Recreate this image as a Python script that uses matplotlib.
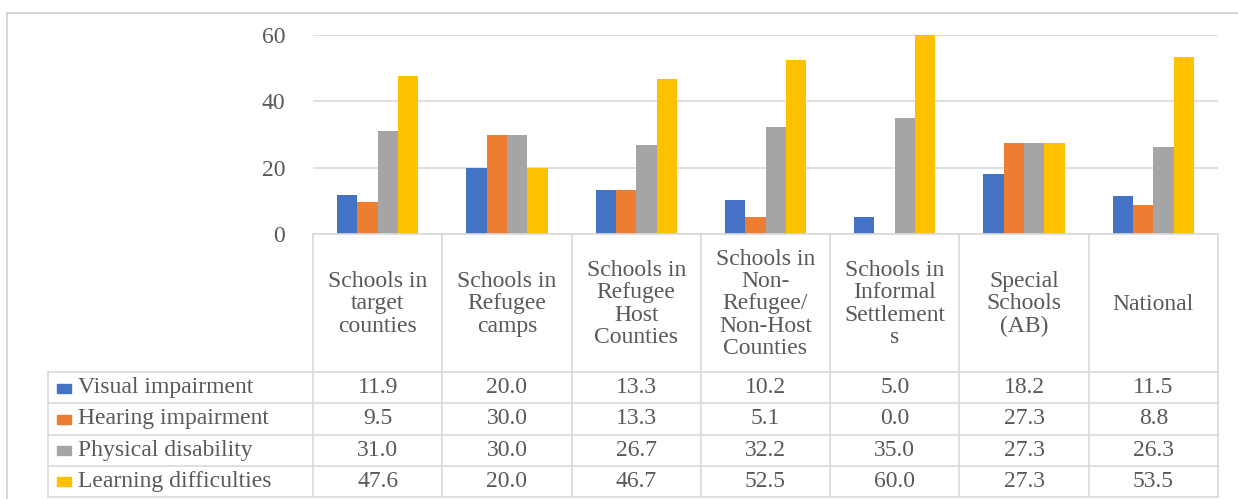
import matplotlib.pyplot as plt
import numpy as np
from matplotlib.patches import Rectangle

plt.rcParams['font.family'] = 'serif'
plt.rcParams['font.serif'] = ['Liberation Serif', 'DejaVu Serif']

categories = [
    'Schools in\ntarget\ncounties',
    'Schools in\nRefugee\ncamps',
    'Schools in\nRefugee\nHost\nCounties',
    'Schools in\nNon-\nRefugee/\nNon-Host\nCounties',
    'Schools in\nInformal\nSettlement\ns',
    'Special\nSchools\n(AB)',
    'National',
]
series_names = ['Visual impairment', 'Hearing impairment',
                'Physical disability', 'Learning difficulties']
visual = [11.9, 20.0, 13.3, 10.2, 5.0, 18.2, 11.5]
hearing = [9.5, 30.0, 13.3, 5.1, 0.0, 27.3, 8.8]
physical = [31.0, 30.0, 26.7, 32.2, 35.0, 27.3, 26.3]
learning = [47.6, 20.0, 46.7, 52.5, 60.0, 27.3, 53.5]
yticks = [0, 20, 40, 60]

series = [visual, hearing, physical, learning]
colors = ['#4472C4', '#ED7D31', '#A5A5A5', '#FFC000']
text_color = '#595959'
line_color = '#D9D9D9'
font = 'Liberation Serif'
fs = 17

W, H = 1238, 499
fig = plt.figure(figsize=(W / 100, H / 100), dpi=100)


def px_box(left, top, right, bottom):
    return [left / W, 1 - bottom / H, (right - left) / W, (bottom - top) / H]


# outer chart frame (top and left edges)
fig.add_artist(plt.Line2D([7 / W, 1.01], [1 - 13 / H, 1 - 13 / H],
                          transform=fig.transFigure, color='#D0D0D0', lw=1.2))
fig.add_artist(plt.Line2D([7 / W, 7 / W], [-0.01, 1 - 13 / H],
                          transform=fig.transFigure, color='#D0D0D0', lw=1.2))

# bar plot area
plot_left, plot_right = 313, 1218
ax = fig.add_axes(px_box(plot_left, 35, plot_right, 234))
n = len(categories)
x = np.arange(n)
bar_w = 0.157
for i, vals in enumerate(series):
    ax.bar(x + (i - 1.5) * bar_w, vals, bar_w, color=colors[i], zorder=3)

ax.set_xlim(-0.5, n - 0.5)
ax.set_ylim(0, 60)
ax.set_yticks(yticks)
ax.set_yticklabels([str(t) for t in yticks], fontsize=fs, color=text_color,
                   family=font)
ax.tick_params(axis='y', length=0, pad=20)
ax.set_xticks([])
ax.grid(axis='y', color=line_color, lw=1.2, zorder=0)
for s in ax.spines.values():
    s.set_visible(False)

# data table below the bars
tab_left, tab_top, tab_bottom = 48, 234, 497
tax = fig.add_axes(px_box(tab_left, tab_top, plot_right, tab_bottom))
unit = n / (plot_right - plot_left)
x_left = -0.5 - (plot_left - tab_left) * unit
tax.set_xlim(x_left, n - 0.5)
tax.set_ylim(tab_bottom - tab_top, 0)
tax.axis('off')

header_h = 138
row_h = (tab_bottom - tab_top - header_h) / len(series)
row_y = [header_h + k * row_h for k in range(len(series) + 1)]

lw = 1.2
# top border over the category columns
tax.plot([-0.5, n - 0.5], [0, 0], color=line_color, lw=lw, clip_on=False)
for y in row_y:
    tax.plot([x_left, n - 0.5], [y, y], color=line_color, lw=lw, clip_on=False)
for k in range(n + 1):
    tax.plot([k - 0.5, k - 0.5], [0, row_y[-1]], color=line_color, lw=lw,
             clip_on=False)
tax.plot([x_left, x_left], [row_y[0], row_y[-1]], color=line_color, lw=lw,
         clip_on=False)

for k, cat in enumerate(categories):
    tax.text(k, header_h / 2 + 1, cat, ha='center', va='center', fontsize=fs,
             color=text_color, linespacing=1.08, family=font)

key_w = 14 * unit
for i, name in enumerate(series_names):
    yc = (row_y[i] + row_y[i + 1]) / 2
    tax.add_patch(Rectangle((x_left + 9 * unit, yc - 4), key_w, 9,
                            color=colors[i], clip_on=False))
    tax.text(x_left + 30 * unit, yc, name, ha='left', va='center',
             fontsize=fs, color=text_color, family=font)
    for k, v in enumerate(series[i]):
        tax.text(k, yc, f'{v:.1f}', ha='center', va='center', fontsize=fs,
                 color=text_color, family=font)

fig.savefig('out.png', dpi=100)
